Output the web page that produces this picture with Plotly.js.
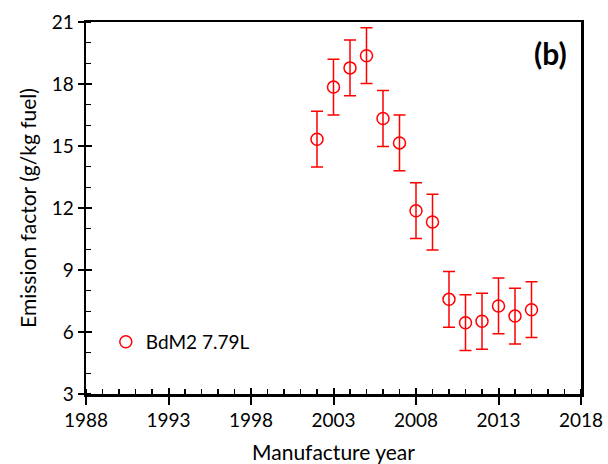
<!DOCTYPE html>
<html>
<head>
<meta charset="utf-8">
<script src="https://cdn.plot.ly/plotly-3.0.1.min.js"></script>
<style>html,body{margin:0;padding:0;background:#fff;}#chart{width:608px;height:464px;}</style>
</head>
<body>
<div id="chart"></div>
<script>
var years = [2002, 2003, 2004, 2005, 2006, 2007, 2008, 2009, 2010, 2011, 2012, 2013, 2014, 2015];
var emission = [15.33, 17.85, 18.78, 19.37, 16.33, 15.15, 11.87, 11.32, 7.58, 6.45, 6.52, 7.26, 6.77, 7.08];
var errors = [1.35, 1.35, 1.35, 1.35, 1.35, 1.35, 1.35, 1.35, 1.35, 1.35, 1.35, 1.35, 1.35, 1.35];
var seriesName = 'BdM2 7.79L';
var xTicks = [1988, 1993, 1998, 2003, 2008, 2013, 2018];
var yTicks = [3, 6, 9, 12, 15, 18, 21];

var fam = 'Lato, "Open Sans", sans-serif';
var font = {family: fam, size: 19, color: '#000'};
var titleFont = {family: fam, size: 21, color: '#000'};

var trace = {
  x: years, y: emission, type: 'scatter', mode: 'markers', name: seriesName,
  marker: {symbol: 'circle-open', size: 12, color: '#ff0000', line: {width: 1.5, color: '#ff0000'}},
  error_y: {type: 'data', array: errors, visible: true, color: '#ff0000', thickness: 1.5, width: 6}
};
var dummy = {x: [years[0]], y: [emission[0]], xaxis: 'x2', yaxis: 'y2', mode: 'markers',
  marker: {opacity: 0}, showlegend: false, hoverinfo: 'skip', type: 'scatter'};

var layout = {
  width: 608, height: 464,
  margin: {l: 86, r: 27, t: 22, b: 70},
  paper_bgcolor: '#fff', plot_bgcolor: '#fff',
  font: font,
  showlegend: true,
  legend: {x: 0.04, y: 0.14, xanchor: 'left', yanchor: 'middle', bgcolor: 'rgba(0,0,0,0)', font: font},
  xaxis: {
    range: [1988, 2018], tickvals: xTicks, ticktext: xTicks.map(String),
    ticks: 'outside', ticklen: 8, tickwidth: 2, tickcolor: '#000',
    minor: {dtick: 1, tick0: 1988, ticks: 'inside', ticklen: 5, tickwidth: 1.5, tickcolor: '#000'},
    showline: true, linecolor: '#000', linewidth: 2.5, mirror: true,
    showgrid: false, zeroline: false,
    title: {text: 'Manufacture year', font: titleFont, standoff: 18}
  },
  yaxis: {
    range: [3, 21], tickvals: yTicks, ticktext: yTicks.map(String),
    ticks: 'outside', ticklen: 6, tickwidth: 2, tickcolor: '#000',
    minor: {dtick: 1, tick0: 3, ticks: 'inside', ticklen: 5, tickwidth: 1.5, tickcolor: '#000'},
    showline: true, linecolor: '#000', linewidth: 2.5, mirror: true,
    showgrid: false, zeroline: false,
    title: {text: 'Emission factor (g/kg fuel)', font: titleFont, standoff: 10}
  },
  xaxis2: {overlaying: 'x', matches: 'x', range: [1988, 2018], tickvals: xTicks, showticklabels: false,
    ticks: 'inside', ticklen: 6, tickwidth: 2, tickcolor: '#000', showgrid: false, zeroline: false, showline: false},
  yaxis2: {overlaying: 'y', matches: 'y', range: [3, 21], tickvals: yTicks, showticklabels: false,
    ticks: 'inside', ticklen: 6, tickwidth: 2, tickcolor: '#000', showgrid: false, zeroline: false, showline: false},
  annotations: [{text: '<b>(b)</b>', xref: 'paper', yref: 'paper', x: 0.975, y: 0.918,
    xanchor: 'right', yanchor: 'middle', showarrow: false,
    font: {family: fam, size: 30, color: '#000'}}]
};

Plotly.newPlot('chart', [trace, dummy], layout, {staticPlot: true, displayModeBar: false});
</script>
</body>
</html>
